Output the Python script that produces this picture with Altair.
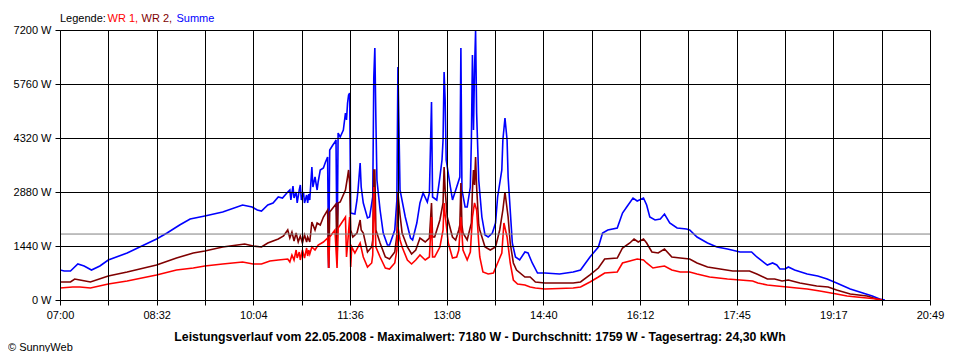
import altair as alt
import pandas as pd

# ---- data (minutes after 07:00, watts) ----
wr1_min = [0, 12, 19, 29, 46, 64, 92, 111, 127, 138, 155, 174, 184, 192, 200, 208, 217, 219, 221, 223, 225, 226, 228, 229, 231, 233, 235, 236, 237, 238, 240, 243, 246, 251, 255, 256, 257, 262, 264, 265, 267, 272, 273, 274, 276, 277, 278, 281, 286, 289, 293, 297, 298, 299, 301, 305, 310, 314, 319, 321, 322, 324, 326, 331, 335, 339, 343, 348, 352, 354, 355, 357, 362, 365, 366, 367, 370, 374, 378, 380, 382, 384, 388, 391, 393, 395, 397, 399, 400, 403, 408, 413, 417, 421, 423, 426, 429, 432, 436, 443, 448, 453, 462, 489, 496, 505, 513, 519, 531, 536, 543, 550, 556, 559, 565, 570, 576, 583, 591, 600, 607, 619, 636, 660, 665, 674, 683, 693, 702, 712, 724, 740, 750, 759, 769, 778, 784]
wr1_w = [320, 347, 347, 320, 427, 507, 667, 800, 853, 907, 960, 1013, 960, 960, 1040, 1067, 1093, 1013, 1200, 1067, 1333, 1120, 1280, 1067, 1333, 1120, 1387, 1173, 1333, 1227, 1413, 1333, 1467, 1547, 1653, 853, 1680, 1867, 853, 1920, 2000, 2213, 1147, 1467, 2213, 880, 1413, 1253, 1520, 1147, 880, 987, 1200, 3013, 1413, 1147, 853, 827, 987, 1333, 1947, 1600, 1413, 1067, 960, 1067, 1200, 1067, 1147, 2213, 1147, 1147, 1413, 1867, 2587, 2267, 1520, 1120, 1147, 1333, 2213, 1333, 1067, 1280, 2213, 2587, 2400, 1520, 1147, 747, 693, 720, 987, 1253, 2053, 1680, 987, 533, 427, 400, 347, 320, 293, 320, 347, 480, 613, 720, 747, 987, 1040, 1093, 1067, 987, 853, 880, 907, 800, 747, 747, 693, 613, 560, 507, 453, 400, 373, 347, 320, 293, 240, 160, 107, 80, 53, 27, 0]

wr2_min = [0, 10, 14, 19, 29, 46, 64, 92, 111, 127, 138, 155, 176, 184, 192, 198, 208, 213, 217, 219, 221, 223, 225, 227, 229, 231, 233, 235, 236, 238, 240, 243, 245, 248, 251, 255, 256, 257, 263, 264, 265, 267, 272, 274, 275, 276, 277, 279, 283, 286, 287, 289, 293, 297, 298, 299, 300, 301, 305, 310, 314, 319, 321, 322, 324, 326, 331, 335, 339, 343, 348, 352, 354, 355, 357, 362, 365, 366, 367, 369, 374, 377, 380, 381, 382, 383, 384, 388, 392, 393, 394, 395, 396, 397, 399, 400, 405, 410, 415, 419, 422, 424, 427, 429, 432, 435, 443, 448, 453, 462, 489, 496, 505, 513, 519, 531, 536, 543, 547, 551, 556, 559, 564, 570, 576, 583, 591, 600, 607, 617, 629, 641, 657, 664, 674, 681, 688, 694, 705, 721, 732, 740, 753, 769, 778, 784]
wr2_w = [480, 480, 560, 533, 480, 640, 747, 933, 1120, 1253, 1307, 1413, 1493, 1440, 1413, 1520, 1627, 1707, 1867, 1653, 1813, 1573, 1787, 1547, 1707, 1520, 1733, 1547, 1680, 1547, 2080, 1867, 2053, 2000, 2213, 2400, 853, 2347, 2560, 1013, 2587, 2613, 2933, 3280, 3467, 3120, 1867, 1680, 1787, 2133, 1867, 1787, 1280, 1413, 1600, 3467, 3467, 1867, 1520, 1147, 1093, 1280, 1733, 2853, 2267, 1787, 1413, 1227, 1333, 1653, 1547, 1653, 2587, 1680, 1680, 2133, 2587, 3547, 2933, 2213, 1680, 1600, 1867, 2000, 3120, 2000, 1787, 1600, 2053, 2933, 3467, 3067, 3813, 3013, 2000, 1867, 1413, 1333, 1413, 1867, 2400, 2880, 2213, 1520, 987, 800, 613, 613, 480, 453, 453, 480, 667, 853, 1093, 1120, 1387, 1520, 1627, 1547, 1627, 1520, 1280, 1253, 1360, 1147, 1120, 1093, 987, 880, 827, 773, 773, 693, 560, 560, 507, 533, 453, 373, 347, 267, 160, 107, 27, 0]

sum_min = [0, 4, 10, 17, 23, 30, 38, 46, 64, 92, 102, 114, 124, 138, 155, 174, 183, 188, 192, 198, 203, 208, 212, 217, 219, 220, 222, 223, 225, 226, 228, 229, 230, 232, 233, 235, 236, 237, 238, 240, 241, 243, 245, 246, 248, 251, 253, 255, 256, 257, 260, 262, 263, 264, 265, 267, 270, 272, 273, 274, 275, 276, 277, 281, 283, 284, 286, 287, 289, 293, 295, 298, 299, 300, 301, 302, 305, 308, 312, 314, 319, 321, 322, 324, 329, 334, 336, 340, 343, 346, 350, 352, 354, 355, 359, 362, 364, 365, 366, 367, 368, 372, 374, 378, 381, 382, 383, 386, 388, 391, 392, 393, 394, 395, 396, 397, 399, 402, 405, 408, 412, 415, 417, 421, 422, 424, 426, 427, 429, 431, 434, 438, 443, 446, 450, 455, 462, 476, 489, 496, 505, 513, 517, 522, 531, 536, 540, 546, 550, 556, 559, 562, 567, 572, 576, 581, 588, 597, 600, 607, 617, 626, 636, 648, 659, 664, 674, 679, 683, 686, 691, 694, 700, 712, 722, 731, 740, 753, 765, 774, 781, 786]
sum_w = [800, 773, 773, 960, 907, 800, 907, 1067, 1253, 1627, 1787, 2000, 2160, 2240, 2347, 2533, 2480, 2400, 2373, 2533, 2587, 2747, 2720, 2880, 2933, 2667, 3040, 2720, 2880, 2587, 2933, 3067, 2667, 2880, 2587, 2800, 2587, 2827, 2667, 3547, 3013, 3280, 2933, 3147, 3467, 3520, 3680, 3813, 853, 4000, 4133, 4213, 4267, 1067, 4453, 4347, 4533, 4987, 4800, 5253, 5467, 5520, 2320, 2293, 2667, 2933, 3653, 3013, 2587, 2187, 2213, 2747, 5920, 6720, 4800, 3200, 2400, 1787, 1467, 1467, 1867, 2667, 6213, 2933, 2213, 1653, 1600, 2053, 2587, 2853, 2613, 2853, 5280, 2747, 2667, 3280, 3733, 4267, 6080, 5333, 3733, 3013, 2667, 3013, 3280, 6720, 2933, 2480, 2480, 3013, 4267, 6533, 4533, 6133, 7180, 4987, 3200, 2213, 1733, 1680, 1787, 2053, 2747, 3467, 4267, 4853, 4267, 3280, 2400, 1520, 1147, 1067, 1280, 1253, 987, 720, 720, 693, 747, 800, 1147, 1413, 1787, 1867, 1920, 2320, 2480, 2720, 2640, 2720, 2533, 2213, 2133, 2160, 2293, 2053, 1920, 1893, 1867, 1680, 1520, 1413, 1360, 1280, 1280, 1147, 933, 987, 933, 827, 827, 880, 800, 693, 640, 560, 453, 293, 187, 107, 27, 0]

average_w = 1759
tick_labels = ["07:00", "08:32", "10:04", "11:36", "13:08", "14:40", "16:12", "17:45", "19:17", "20:49"]
y_ticks = [0, 1440, 2880, 4320, 5760, 7200]
span_min = 829  # 07:00 .. 20:49
series_names = ["WR 1", "WR 2", "Summe"]
series_colors = ["#ff0000", "#800000", "#0000ff"]
caption = "Leistungsverlauf vom 22.05.2008 - Maximalwert: 7180 W - Durchschnitt: 1759 W - Tagesertrag: 24,30 kWh"

FONT = "Liberation Sans"

step = span_min / 18
x_values = [i * step for i in range(19)]
label_arr = "[" + ",".join("'%s'" % s for s in tick_labels) + "]"
label_expr = ("round(datum.value/%f) %% 2 == 0 ? %s[round(datum.value/%f)/2] : ''"
              % (step, label_arr, step))

x_scale = alt.Scale(domain=[0, span_min], nice=False, zero=False)
y_scale = alt.Scale(domain=[0, 7200], nice=False)

x_axis = alt.Axis(values=x_values, labelExpr=label_expr, title=None, grid=True,
                  gridColor="black", gridOpacity=1, domainColor="black", tickColor="black",
                  tickSize=5, labelFlush=False, labelOverlap=False, labelPadding=4,
                  labelFont=FONT, labelFontSize=11, labelColor="black", zindex=1)
y_axis = alt.Axis(values=y_ticks, labelExpr="datum.value + ' W'", title=None, grid=True,
                  gridColor="black", gridOpacity=1, domainColor="black", tickColor="black",
                  tickSize=5, labelPadding=4, labelFont=FONT, labelFontSize=11,
                  labelColor="black", zindex=1)


def series_layer(mins, watts, name, color):
    df = pd.DataFrame({"t": mins, "w": watts, "s": name})
    return alt.Chart(df).mark_line(color=color, strokeWidth=1.6, clip=True).encode(
        x=alt.X("t:Q", scale=x_scale, axis=x_axis),
        y=alt.Y("w:Q", scale=y_scale, axis=y_axis),
        order="t:Q")


l1 = series_layer(wr1_min, wr1_w, series_names[0], series_colors[0])
l2 = series_layer(wr2_min, wr2_w, series_names[1], series_colors[1])
l3 = series_layer(sum_min, sum_w, series_names[2], series_colors[2])

avg = alt.Chart(pd.DataFrame({"w": [average_w]})).mark_rule(color="#808080", strokeWidth=1).encode(
    y=alt.Y("w:Q", scale=y_scale, axis=y_axis))

one = pd.DataFrame({"a": [0]})


def txt(text, x, y, color="black", bold=False, align="left", size=11):
    return alt.Chart(one).mark_text(
        text=text, align=align, baseline="alphabetic", font=FONT, fontSize=size,
        fontWeight="bold" if bold else "normal", color=color, clip=False
    ).encode(x=alt.value(x), y=alt.value(y))


legend_layers = [
    txt("Legende:", 0, -8),
    txt(series_names[0] + ",", 47.5, -8, series_colors[0]),
    txt(series_names[1] + ",", 81.5, -8, series_colors[1]),
    txt(series_names[2], 116.5, -8, series_colors[2]),
]
cap = txt(caption, 420, 311, bold=True, align="center", size=12.3)
copy = txt("\u00a9 SunnyWeb", -52, 321, size=11)

# drawing order as in the original: Summe below, WR 2, then WR 1 on top
chart = alt.layer(l3, l2, l1, avg, *legend_layers, cap, copy).properties(
    width=870, height=270,
    autosize=alt.AutoSizeParams(type="none"),
    padding={"left": 52, "top": 22, "right": 22, "bottom": 52},
    background="white",
).configure_view(stroke=None)

chart.save("out.html", embed_options={"renderer": "svg", "actions": False})
